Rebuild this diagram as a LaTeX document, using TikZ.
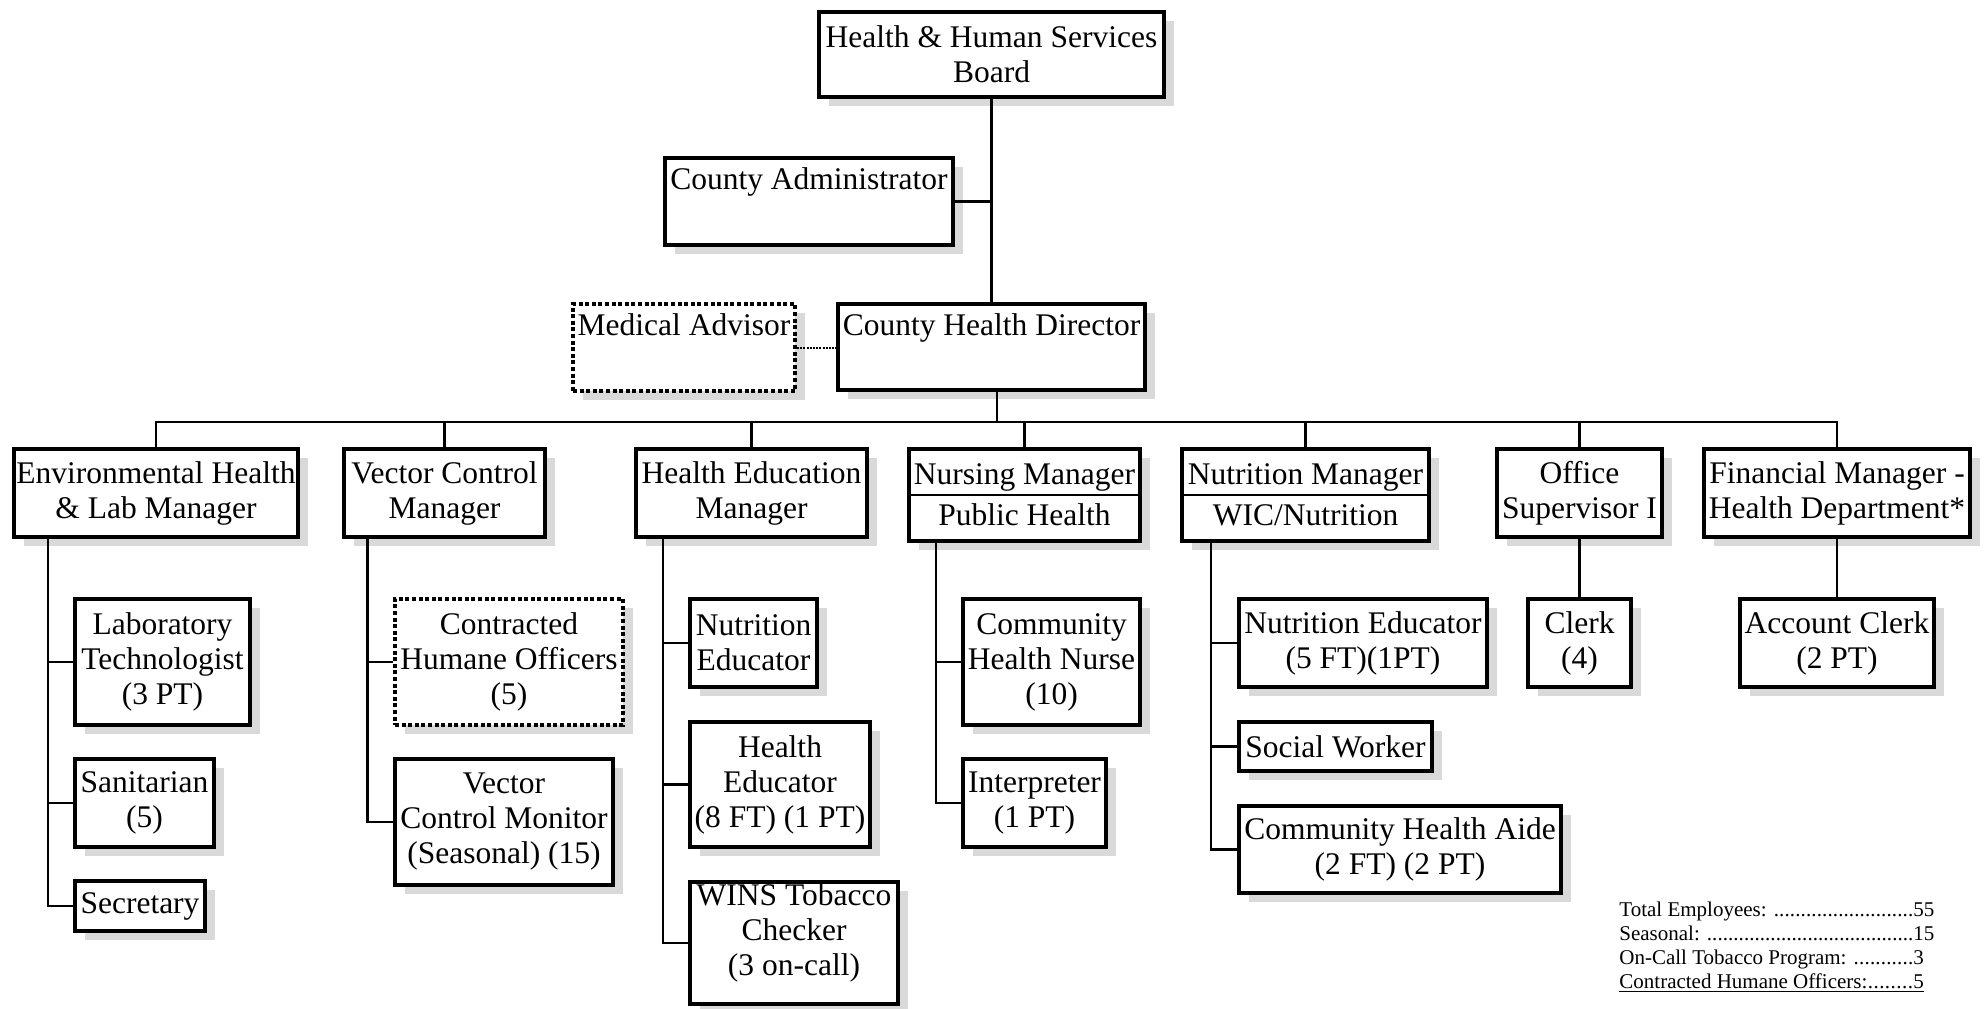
\documentclass[tikz,border=0pt]{standalone}
\usepackage{fontspec}
\setmainfont{Liberation Serif}
\usetikzlibrary{shadows}
\newcommand\mainsz{\fontsize{15.75pt}{17.5pt}\selectfont}
\newcommand\mydots{\xleaders\hbox{.}\hfill}
% \obox[opts]{name}{x1}{y1}{x2}{y2}{text} -- outer edges in px
\newcommand\obox[7][]{\node[box,#1,minimum width={(#5-#3-4)*0.5pt},minimum height={(#6-#4-4)*0.5pt}] (#2) at ({(#3+#5)/2},{(#4+#6)/2}) {#7};}
\begin{document}
\begin{tikzpicture}[x=0.5pt,y=-0.5pt,
  box/.style={draw, line width=2pt, fill=white, align=center, inner sep=0pt, font=\mainsz,
    drop shadow={shadow xshift=5pt, shadow yshift=-4.5pt, fill=black!15, opacity=1}},
  dbox/.style={dash pattern=on 2pt off 1.3pt},
  conn/.style={line width=1.3pt},
  dotconn/.style={line width=1pt, dash pattern=on 1pt off 0.6pt},
  divider/.style={line width=1pt},
  sumtxt/.style={anchor=base west, inner sep=0pt, font=\fontsize{10.5pt}{12pt}\selectfont}]
\fill[white] (0,0) rectangle (1986,1008);
\useasboundingbox (0,0) rectangle (1986,1008);

% top levels
\obox{board}{817}{10}{1166}{99}{Health \& Human Services\\Board}
\obox{admin}{663}{156}{955}{247}{County Administrator\\\strut}
\obox[dbox]{medadv}{571}{302}{797}{393}{Medical Advisor\\\strut}
\obox{director}{836}{302}{1147}{392}{County Health Director\\\strut}

% managers
\obox{env}{12}{447}{300}{539}{Environmental Health\\\& Lab Manager}
\obox{vec}{342}{447}{547}{539}{Vector Control\\Manager}
\obox{hed}{634}{447}{869}{539}{Health Education\\Manager}
\obox{nur}{907}{447}{1142}{543}{Nursing Manager\\[3pt]Public Health}
\obox{nut}{1180}{447}{1431}{543}{Nutrition Manager\\[3pt]WIC/Nutrition}
\obox{off}{1495}{447}{1664}{539}{Office\\Supervisor I}
\obox{fin}{1702}{447}{1972}{539}{Financial Manager -\\Health Department*}
\draw[divider] (nur.west) -- (nur.east);
\draw[divider] (nut.west) -- (nut.east);

% staff
\obox{lab}{73}{597}{252}{727}{Laboratory\\Technologist\\(3 PT)}
\obox{san}{73}{757}{216}{849}{Sanitarian\\(5)}
\obox{sec}{73}{879}{207}{933}{Secretary}
\obox[dbox]{hum}{393}{597}{625}{727}{Contracted\\Humane Officers\\(5)}
\obox{vcm}{393}{757}{615}{887}{Vector\\Control Monitor\\(Seasonal) (15)}
\obox{ned}{688}{597}{819}{689}{Nutrition\\Educator}
\obox{hedu}{688}{720}{872}{849}{Health\\Educator\\(8 FT) (1 PT)}
\obox{wins}{688}{880}{900}{1006}{WINS Tobacco\\Checker\\(3 on-call)\\[-4pt]\mbox{}}
\obox{chn}{961}{597}{1142}{727}{Community\\Health Nurse\\(10)}
\obox{int}{961}{757}{1108}{849}{Interpreter\\(1 PT)}
\obox{ned2}{1237}{597}{1489}{689}{Nutrition Educator\\(5 FT)(1PT)}
\obox{soc}{1237}{720}{1434}{773}{Social Worker}
\obox{cha}{1237}{804}{1563}{895}{Community Health Aide\\(2 FT) (2 PT)}
\obox{clerk}{1526}{597}{1633}{689}{Clerk\\(4)}
\obox{acc}{1738}{597}{1936}{689}{Account Clerk\\(2 PT)}

% connectors
\coordinate (dj) at (997,422);
\draw[conn] (board.south) -- (board.south |- director.north);
\draw[conn] (admin.east) -- (admin.east -| board.south);
\draw[dotconn] (medadv.east) -- (medadv.east -| director.west);
\draw[conn] (director.south -| dj) -- (dj);
\draw[conn] (env.north) -- (env.north |- dj) -- (fin.north |- dj) -- (fin.north);
\foreach \n in {vec,hed,nur,nut,off} \draw[conn] (\n.north) -- (\n.north |- dj);

\coordinate (envS) at (48,539);
\coordinate (vecS) at (367.5,539);
\coordinate (hedS) at (663,539);
\coordinate (nurS) at (936,543);
\coordinate (nutS) at (1211,543);
\foreach \c in {lab,san,sec} \draw[conn] (envS) |- (\c.west);
\foreach \c in {hum,vcm} \draw[conn] (vecS) |- (\c.west);
\foreach \c in {ned,hedu,wins} \draw[conn] (hedS) |- (\c.west);
\foreach \c in {chn,int} \draw[conn] (nurS) |- (\c.west);
\foreach \c in {ned2,soc,cha} \draw[conn] (nutS) |- (\c.west);
\draw[conn] (off.south) -- (clerk.north);
\draw[conn] (fin.south) -- (acc.north);

% summary
\node[sumtxt] (s1) at (1619,916) {\hbox to 147pt{Total Employees: \mydots}55};
\node[sumtxt] (s2) at (1619,940) {\hbox to 147pt{Seasonal: \mydots}15};
\node[sumtxt] (s3) at (1619,964) {\hbox to 147pt{On-Call Tobacco Program: \mydots}3};
\node[sumtxt] (s4) at (1619,988) {\underline{\hbox to 147pt{Contracted Humane Officers:\mydots}5}};
\end{tikzpicture}
\end{document}
